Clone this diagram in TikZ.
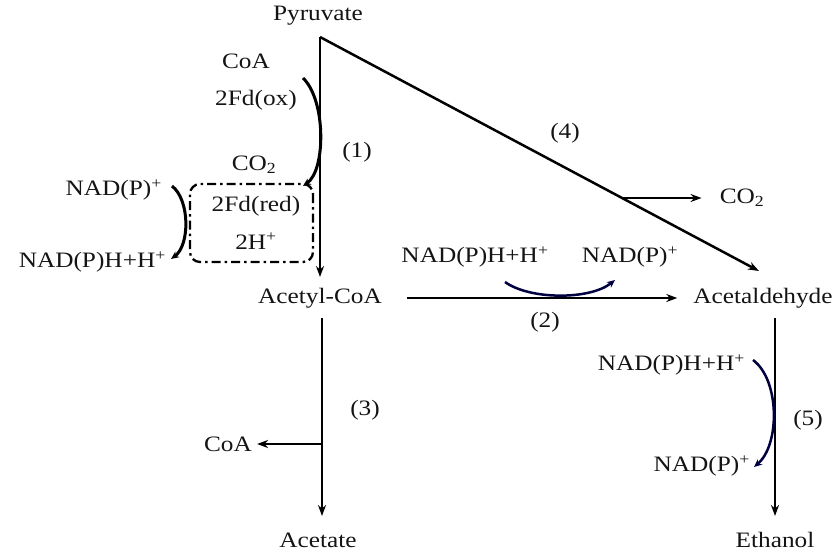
\documentclass[tikz,border=0pt]{standalone}
\usepackage{fontspec}
\setmainfont{Liberation Serif}[FakeStretch=1.15]
\usetikzlibrary{arrows.meta}
\begin{document}
\begin{tikzpicture}[x=1pt,y=-1pt,
  lbl/.style={font=\fontsize{22}{26}\selectfont, inner sep=0pt, text=black!92},
  main/.style={line width=2.5pt, -{Stealth[length=11pt,width=8pt]}},
  cof/.style={line width=3pt, -{Stealth[length=8pt,width=7pt]}},
  cofb/.style={line width=2.5pt, draw=black!75!blue, -{Stealth[length=8pt,width=7pt]}},
  dashbox/.style={line width=2.3pt, dash pattern=on 9pt off 4pt on 2.5pt off 4pt, rounded corners=10pt}]
\useasboundingbox (0,0) rectangle (837,551);
% metabolites
\node[lbl] (pyr) at (318,16) {Pyruvate};
\node[lbl] (acoa) at (320,298) {Acetyl-CoA};
\node[lbl] (ald) at (763,298) {Acetaldehyde};
\node[lbl] (acet) at (318,540) {Acetate};
\node[lbl] (eth) at (775,540) {Ethanol};
\node[lbl] (co2r) at (742,198) {CO\textsubscript{2}};
\node[lbl] (coa3) at (228,444) {CoA};
% labels
\node[lbl] (l1) at (357,152) {(1)};
\node[lbl] (l2) at (545,322) {(2)};
\node[lbl] (l3) at (365,410) {(3)};
\node[lbl] (l4) at (565,133) {(4)};
\node[lbl] (l5) at (808,420) {(5)};
% cofactors
\node[lbl] (coa1) at (246,61) {CoA};
\node[lbl] (fdox) at (256,100) {2Fd(ox)};
\node[lbl] (co2a) at (254,165) {CO\textsubscript{2}};
\node[lbl] (fdred) at (256,206) {2Fd(red)};
\node[lbl] (h2) at (256,241) {2H\textsuperscript{+}};
\node[lbl, anchor=east] (nadpl) at (162,190) {NAD(P)\textsuperscript{+}};
\node[lbl, anchor=east] (nadhl) at (166,262) {NAD(P)H+H\textsuperscript{+}};
\node[lbl] (nadhm) at (475,257) {NAD(P)H+H\textsuperscript{+}};
\node[lbl] (nadpm) at (630,257) {NAD(P)\textsuperscript{+}};
\node[lbl, anchor=east] (nadhr) at (745,365) {NAD(P)H+H\textsuperscript{+}};
\node[lbl, anchor=east] (nadpr) at (750,466) {NAD(P)\textsuperscript{+}};
% coordinates
\coordinate (top) at (320,37);
\coordinate (acoaT) at (320,277);
\coordinate (aldT) at (759,271);
\coordinate (br) at (622,198);
\coordinate (coaB) at (322,444);
% main arrows
\draw[main] (top) -- (acoaT);
\draw[main] (top) -- (aldT);
\draw[main] (br) -- ([xshift=-18pt]co2r.west);
\draw[main] ([xshift=25pt]acoa.east) -- ([xshift=-16pt]ald.west);
\draw[main] (322,318) -- (322,516);
\draw[main] (coaB) -- ([xshift=5pt]coa3.east);
\draw[main] (775,318) -- (775,516);
% cofactor arcs
\draw[cof] (303,78) .. controls (326,100) and (326,170) .. (303,186);
\draw[cof] (172,186) .. controls (190,200) and (190,245) .. (171,259);
\draw[cofb] (505,282) .. controls (530,300) and (590,300) .. (615,280);
\draw[cofb] (753,360) .. controls (780,380) and (780,445) .. (754,467);
% dashed box
\draw[dashbox] (313,184) -- (313,262) -- (190,262) -- (190,184) -- cycle;
\end{tikzpicture}
\end{document}
